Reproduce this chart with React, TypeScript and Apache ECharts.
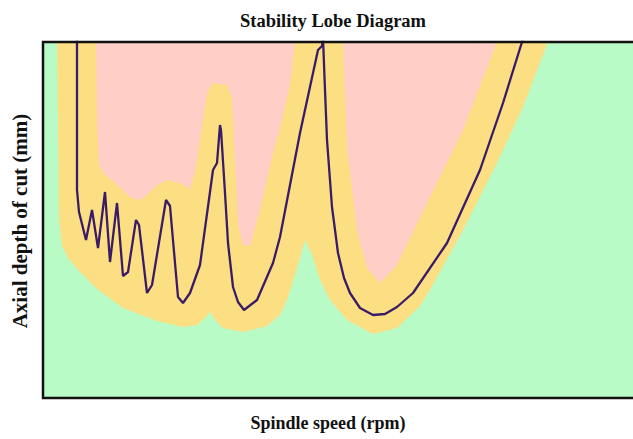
import React, { useEffect, useRef } from "react";
import * as echarts from "echarts";

// Spindle speed (rpm) and axial depth of cut (mm)
const lobeSpeed = [340, 340, 360, 430, 490, 550, 620, 670, 740, 800, 850, 930, 960, 1040, 1090, 1230, 1270, 1350, 1400, 1470, 1570, 1700, 1740, 1770, 1780, 1820, 1850, 1900, 1950, 2010, 2140, 2300, 2370, 2570, 2750, 2790, 2800, 2820, 2840, 2890, 2950, 3010, 3070, 3170, 3300, 3420, 3540, 3700, 4040, 4370, 4600, 4790, 4870];
const lobeDepth = [9.5, 5.2, 4.65, 3.95, 4.7, 3.75, 5.15, 3.4, 4.875, 3.05, 3.15, 4.45, 4.325, 2.625, 2.825, 4.95, 4.8, 2.525, 2.375, 2.625, 3.325, 5.7, 5.875, 6.825, 6.7, 5.125, 3.875, 2.775, 2.4, 2.2, 2.45, 3.375, 4.025, 6.625, 8.7, 8.8, 9.0, 7.7, 6.45, 4.775, 3.625, 3.0, 2.625, 2.25, 2.075, 2.1, 2.275, 2.625, 3.875, 5.7, 7.375, 8.9, 9.575];

// Lower edge of the transition (uncertain) band
const bandSpeed = [0, 140, 150, 160, 190, 250, 370, 540, 800, 1140, 1400, 1540, 1620, 1670, 1720, 1800, 2000, 2240, 2370, 2440, 2520, 2570, 2620, 2690, 2770, 2870, 3040, 3300, 3540, 3770, 3870, 4200, 4540, 4800, 5050, 5900];
const bandDepth = [8.9, 8.9, 6.95, 4.45, 3.8, 3.5, 3.15, 2.725, 2.25, 1.925, 1.775, 1.825, 2.0, 2.15, 1.95, 1.75, 1.65, 1.8, 2.075, 2.45, 3.075, 3.5, 3.95, 3.575, 2.95, 2.45, 1.95, 1.6, 1.75, 2.3, 2.7, 4.2, 5.875, 7.275, 8.9, 8.9];

// Lower edge of the unstable (chatter) region
const unstableSpeed = [0, 530, 540, 560, 620, 700, 870, 970, 1040, 1140, 1240, 1370, 1470, 1520, 1590, 1640, 1700, 1840, 1890, 1920, 1950, 2000, 2070, 2170, 2300, 2370, 2470, 2520, 3000, 3040, 3140, 3240, 3370, 3540, 3870, 4200, 4540, 5900];
const unstableDepth = [8.9, 8.9, 6.95, 5.825, 5.575, 5.425, 5.025, 4.95, 5.075, 5.325, 5.45, 5.375, 5.225, 5.65, 6.775, 7.625, 7.875, 7.825, 7.525, 5.95, 4.325, 3.825, 3.8, 4.7, 6.125, 6.75, 7.825, 8.9, 8.9, 6.275, 4.2, 3.25, 2.875, 3.325, 5.025, 6.7, 8.9, 8.9];

const X_MIN = 0;
const X_MAX = 5900;
const Y_MIN = 0;
const Y_MAX = 8.9;

const zip = (xs: number[], ys: number[]) => xs.map((x, i) => [x, ys[i]]);

const FONT = "'Liberation Serif', 'Times New Roman', serif";

export default function App() {
  const ref = useRef<HTMLDivElement>(null);
  useEffect(() => {
    document.body.style.margin = "0";
    if (!ref.current) return;
    const chart = echarts.init(ref.current, undefined, { renderer: "svg" });
    chart.setOption({
      animation: false,
      title: {
        text: "Stability Lobe Diagram",
        left: 328,
        top: 6,
        textAlign: "center",
        textStyle: { fontFamily: FONT, fontWeight: "bold", fontSize: 18.5, color: "#111" },
      },
      grid: {
        left: 43,
        top: 42,
        right: 0,
        height: 356,
        show: true,
        backgroundColor: "#b8fbc6",
        borderWidth: 0,
      },
      xAxis: {
        type: "value",
        min: X_MIN,
        max: X_MAX,
        show: false,
      },
      yAxis: {
        type: "value",
        min: Y_MIN,
        max: Y_MAX,
        show: false,
      },
      graphic: [
        {
          type: "rect",
          z: 100,
          shape: { x: 43, y: 42, width: 640, height: 356 },
          style: { fill: "none", stroke: "#111", lineWidth: 2.5 },
        },
        {
          type: "text",
          x: 20,
          y: 221,
          rotation: Math.PI / 2,
          style: {
            text: "Axial depth of cut (mm)",
            font: `bold 21px ${FONT}`,
            fill: "#111",
            textAlign: "center",
            textVerticalAlign: "middle",
          },
        },
        {
          type: "text",
          x: 328,
          y: 423,
          style: {
            text: "Spindle speed (rpm)",
            font: `bold 18px ${FONT}`,
            fill: "#111",
            textAlign: "center",
            textVerticalAlign: "middle",
          },
        },
      ],
      series: [
        {
          name: "Transition band",
          type: "line",
          data: zip(bandSpeed, bandDepth),
          showSymbol: false,
          lineStyle: { width: 0 },
          areaStyle: { origin: "end", color: "#fddf83", opacity: 1 },
          z: 1,
        },
        {
          name: "Unstable",
          type: "line",
          data: zip(unstableSpeed, unstableDepth),
          showSymbol: false,
          lineStyle: { width: 0 },
          areaStyle: { origin: "end", color: "#fecec7", opacity: 1 },
          z: 2,
        },
        {
          name: "Stability limit",
          type: "line",
          data: zip(lobeSpeed, lobeDepth),
          showSymbol: false,
          lineStyle: { width: 2.3, color: "#3a1b68" },
          z: 3,
        },
      ],
    });
    return () => chart.dispose();
  }, []);
  return <div ref={ref} style={{ width: 633, height: 439 }} />;
}
